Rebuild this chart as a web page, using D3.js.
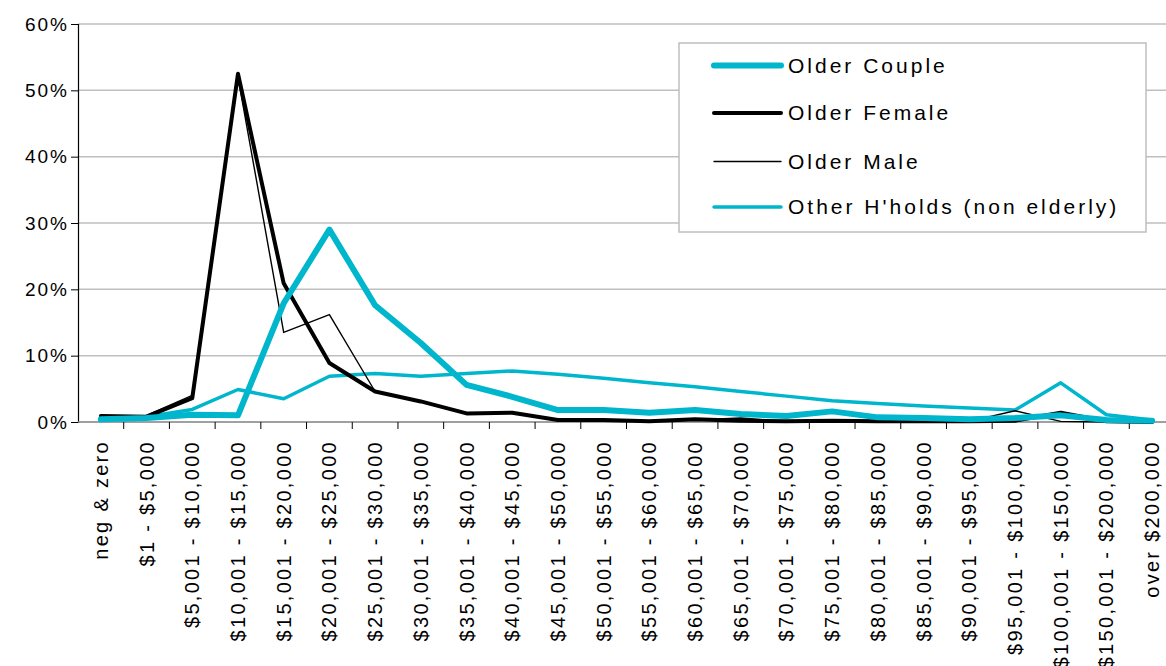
<!DOCTYPE html>
<html>
<head>
<meta charset="utf-8">
<title>Income distribution by household type</title>
<script src="https://d3js.org/d3.v7.min.js"></script>
<style>
    body { margin: 0; background: #fff; }
    text { font-family: "Liberation Sans", "DejaVu Sans", sans-serif; fill: #000; }
</style>
</head>
<body>
<svg id="chart" width="1166" height="666"></svg>
<script>
    // categories (income bands)
    const categories = ["neg & zero", "$1 - $5,000", "$5,001 - $10,000", "$10,001 - $15,000",
        "$15,001 - $20,000", "$20,001 - $25,000", "$25,001 - $30,000", "$30,001 - $35,000",
        "$35,001 - $40,000", "$40,001 - $45,000", "$45,001 - $50,000", "$50,001 - $55,000",
        "$55,001 - $60,000", "$60,001 - $65,000", "$65,001 - $70,000", "$70,001 - $75,000",
        "$75,001 - $80,000", "$80,001 - $85,000", "$85,001 - $90,000", "$90,001 - $95,000",
        "$95,001 - $100,000", "$100,001 - $150,000", "$150,001 - $200,000", "over $200,000"]

    // percent of households in each band
    const olderCouple = [0.4, 0.6, 1.1, 1.0, 17.9, 29.0, 17.6, 11.9, 5.6, 3.8, 1.8, 1.8,
        1.4, 1.8, 1.2, 0.9, 1.6, 0.7, 0.6, 0.4, 0.6, 1.0, 0.3, 0.2]
    const olderFemale = [0.9, 0.8, 3.6, 52.5, 20.9, 8.9, 4.6, 3.1, 1.3, 1.4, 0.3, 0.3,
        0.1, 0.4, 0.2, 0.1, 0.2, 0.1, 0.1, 0.1, 0.2, 1.4, 0.1, 0.0]
    const olderMale = [0.6, 1.0, 4.0, 52.0, 13.5, 16.2, 4.6, 3.1, 1.4, 1.3, 0.2, 0.2,
        0.1, 0.3, 0.6, 0.1, 0.1, 0.1, 0.1, 0.1, 1.7, 0.1, 0.0, 0.0]
    const otherHholds = [0.3, 0.8, 1.9, 4.9, 3.5, 6.9, 7.3, 6.9, 7.3, 7.7, 7.2, 6.6,
        5.9, 5.3, 4.6, 3.9, 3.2, 2.8, 2.4, 2.1, 1.8, 5.9, 1.1, 0.3]

    const yTicks = [0, 10, 20, 30, 40, 50, 60]

    const series = [
        { name: "Older Couple", values: olderCouple, color: "#00B6CD", width: 6 },
        { name: "Older Female", values: olderFemale, color: "#000000", width: 4 },
        { name: "Older Male", values: olderMale, color: "#000000", width: 1.4 },
        { name: "Other H'holds  (non elderly)", values: otherHholds, color: "#00B6CD", width: 3.5 }
    ]

    var margin = { left: 78, top: 24 }
    var width = 1097
    var height = 398

    var svg = d3.select('#chart')
    var chart = svg.append('g')
        .attr('transform', 'translate(' + margin.left + ',' + margin.top + ')')

    var x = d3.scaleBand().domain(categories).range([0, width])
    var y = d3.scaleLinear().domain([0, 60]).range([height, 0])

    // gridlines
    chart.append('g')
        .selectAll('line')
        .data(yTicks.filter(d => d > 0))
        .join('line')
        .attr('x1', 0).attr('x2', width)
        .attr('y1', d => y(d)).attr('y2', d => y(d))
        .attr('stroke', '#BFBFBF')
        .attr('stroke-width', 1.5)

    // y axis
    var yAxis = chart.append('g')
        .call(d3.axisLeft(y).tickValues(yTicks).tickFormat(d => d + '%').tickSize(7).tickPadding(2))
    yAxis.select('.domain').attr('stroke', '#000').attr('stroke-width', 1.2)
    yAxis.selectAll('.tick line').attr('stroke', '#000')
    yAxis.selectAll('text')
        .style('font-size', '19px')
        .style('letter-spacing', '2px')
        .attr('fill', '#000')

    // x axis: ticks at band boundaries
    var xAxis = chart.append('g').attr('transform', 'translate(0,' + height + ')')
    xAxis.append('line')
        .attr('x1', 0).attr('x2', width)
        .attr('stroke', '#808080').attr('stroke-width', 1.5)
    xAxis.selectAll('.btick')
        .data(categories.slice(1))
        .join('line')
        .attr('class', 'btick')
        .attr('x1', d => x(d)).attr('x2', d => x(d))
        .attr('y1', 0).attr('y2', 7)
        .attr('stroke', '#000')
    xAxis.selectAll('.lbl')
        .data(categories)
        .join('text')
        .attr('class', 'lbl')
        .attr('transform', d => 'translate(' + (x(d) + x.bandwidth() / 2 + 7) + ',18) rotate(-90)')
        .attr('text-anchor', 'end')
        .style('font-size', '20px')
        .style('letter-spacing', '2.3px')
        .text(d => d)

    // lines
    var line = d3.line()
        .x((d, i) => x(categories[i]) + x.bandwidth() / 2)
        .y(d => y(d))

    chart.append('g')
        .selectAll('path')
        .data(series.slice().reverse())
        .join('path')
        .attr('d', d => line(d.values))
        .attr('fill', 'none')
        .attr('stroke', d => d.color)
        .attr('stroke-width', d => d.width)
        .attr('stroke-linejoin', 'round')
        .attr('stroke-linecap', 'round')

    // legend
    var legend = svg.append('g').attr('transform', 'translate(679,43)')
    legend.append('rect')
        .attr('width', 467).attr('height', 189)
        .attr('fill', '#fff')
        .attr('stroke', '#BFBFBF').attr('stroke-width', 1.5)
    var rows = [22.5, 70, 118.5, 164]
    var item = legend.selectAll('.item')
        .data(series)
        .join('g')
        .attr('class', 'item')
        .attr('transform', (d, i) => 'translate(0,' + rows[i] + ')')
    item.append('line')
        .attr('x1', 35).attr('x2', 102)
        .attr('stroke', d => d.color)
        .attr('stroke-width', d => d.width)
        .attr('stroke-linecap', 'round')
    item.append('text')
        .attr('x', 109).attr('dy', '0.35em')
        .style('font-size', '21px')
        .style('letter-spacing', '3px')
        .text(d => d.name)
</script>
</body>
</html>
